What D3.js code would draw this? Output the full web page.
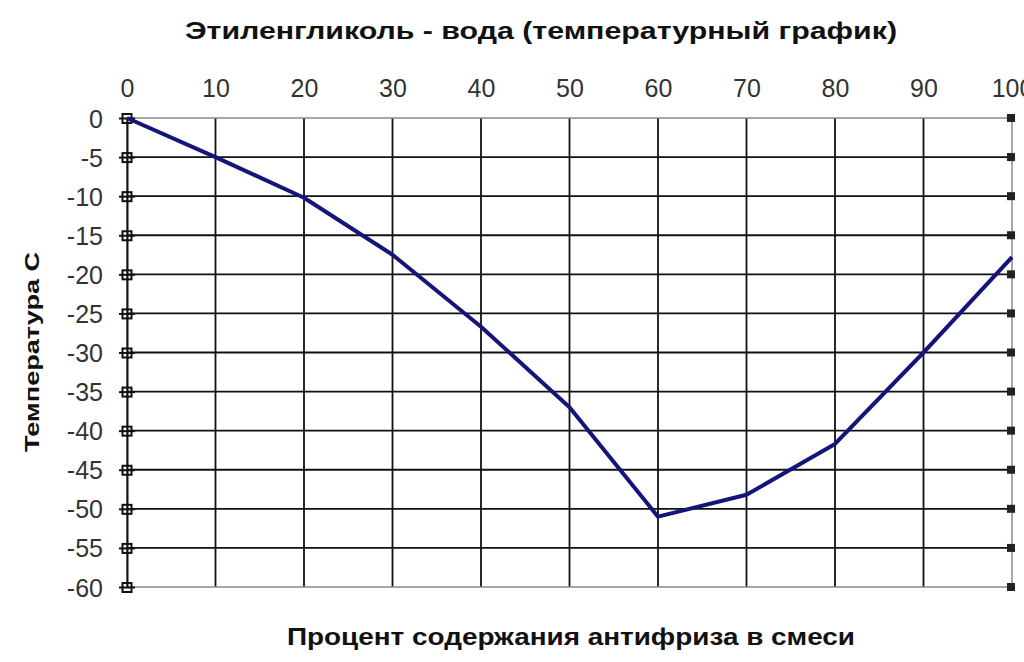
<!DOCTYPE html>
<html>
<head>
<meta charset="utf-8">
<script src="https://cdn.jsdelivr.net/npm/d3@7/dist/d3.min.js"></script>
<style>
  body { margin: 0; background: #fff; }
  svg { display: block; }
  .tick-label { font-family: "Liberation Sans Narrow", "Arial Narrow", "Liberation Sans", sans-serif; font-size: 25px; fill: #333; }
  .title { font-family: "Liberation Sans", Arial, sans-serif; font-weight: bold; fill: #111; }
</style>
</head>
<body>
<svg width="1024" height="662"></svg>
<script>
// antifreeze share, %  and freezing temperature, C
const percent = [0, 10, 20, 30, 40, 50, 60, 70, 80, 90, 100];
const tempC = [0, -5, -10.2, -17.5, -26.7, -37, -51, -48.2, -41.7, -30, -17.8];

const xTicks = [0, 10, 20, 30, 40, 50, 60, 70, 80, 90, 100];
const yTicks = [0, -5, -10, -15, -20, -25, -30, -35, -40, -45, -50, -55, -60];

const titleText = 'Этиленгликоль - вода (температурный график)';
const xLabel = 'Процент содержания антифриза в смеси';
const yLabel = 'Температура С';

const svg = d3.select('svg');
const width = +svg.attr('width');
const height = +svg.attr('height');
const margin = { top: 118, right: 12, bottom: 75, left: 127 };

const x = d3.scaleLinear()
  .domain([0, 100])
  .range([margin.left, width - margin.right]);

const y = d3.scaleLinear()
  .domain([-60, 0])
  .range([height - margin.bottom, margin.top]);

// plain hyphen minus, as in the original
const fmt = d => String(d);

// grid
svg.append('g')
  .selectAll('line')
  .data(xTicks.slice(1, -1))
  .enter().append('line')
  .attr('x1', d => x(d)).attr('x2', d => x(d))
  .attr('y1', y(0)).attr('y2', y(-60))
  .attr('stroke', '#111')
  .attr('stroke-width', 1.8);

svg.append('g')
  .selectAll('line')
  .data(yTicks.slice(1, -1))
  .enter().append('line')
  .attr('x1', x(0)).attr('x2', x(100))
  .attr('y1', d => y(d)).attr('y2', d => y(d))
  .attr('stroke', '#111')
  .attr('stroke-width', 1.8);

// frame (top, bottom, right are grey)
svg.append('rect')
  .attr('x', x(0)).attr('y', y(0))
  .attr('width', x(100) - x(0))
  .attr('height', y(-60) - y(0))
  .attr('fill', 'none')
  .attr('stroke', '#8a8a8a')
  .attr('stroke-width', 1.5);

// left axis
const yAxis = svg.append('g')
  .attr('transform', `translate(${x(0)},0)`)
  .call(d3.axisLeft(y).tickValues(yTicks).tickSize(0).tickPadding(24).tickFormat(fmt));
yAxis.select('.domain').attr('stroke', '#111').attr('stroke-width', 2);
yAxis.selectAll('.tick text')
  .attr('class', 'tick-label')
  .attr('fill', null)
  .attr('dy', '0.36em');

// cross tick marks on the left axis
yAxis.selectAll('.tick').append('rect')
  .attr('x', -4.5).attr('y', -4.5).attr('width', 9).attr('height', 9)
  .attr('fill', 'none').attr('stroke', '#111').attr('stroke-width', 2);
yAxis.selectAll('.tick').append('line')
  .attr('x1', -8).attr('x2', 8)
  .attr('stroke', '#111').attr('stroke-width', 2);

// small markers on the right edge
svg.append('g')
  .selectAll('rect')
  .data(yTicks)
  .enter().append('rect')
  .attr('x', x(100) - 5).attr('y', d => y(d) - 4)
  .attr('width', 8).attr('height', 8)
  .attr('fill', '#222');

// top axis labels
const xAxis = svg.append('g')
  .attr('transform', `translate(0,${y(0)})`)
  .call(d3.axisTop(x).tickValues(xTicks).tickSize(0).tickPadding(21).tickFormat(fmt));
xAxis.select('.domain').remove();
xAxis.selectAll('.tick text')
  .attr('class', 'tick-label')
  .attr('fill', null);

// data line
const line = d3.line()
  .x((d, i) => x(percent[i]))
  .y(d => y(d));

svg.append('path')
  .datum(tempC)
  .attr('fill', 'none')
  .attr('stroke', '#14147a')
  .attr('stroke-width', 4)
  .attr('stroke-linejoin', 'round')
  .attr('d', line);

// titles
svg.append('text')
  .attr('class', 'title')
  .attr('x', 541).attr('y', 39)
  .attr('text-anchor', 'middle')
  .attr('font-size', 24)
  .attr('textLength', 712)
  .attr('lengthAdjust', 'spacingAndGlyphs')
  .text(titleText);

svg.append('text')
  .attr('class', 'title')
  .attr('x', 571).attr('y', 645)
  .attr('text-anchor', 'middle')
  .attr('font-size', 23)
  .attr('textLength', 568)
  .attr('lengthAdjust', 'spacingAndGlyphs')
  .text(xLabel);

svg.append('text')
  .attr('class', 'title')
  .attr('transform', 'translate(39,352) rotate(-90)')
  .attr('text-anchor', 'middle')
  .attr('font-size', 21)
  .attr('textLength', 200)
  .attr('lengthAdjust', 'spacingAndGlyphs')
  .text(yLabel);
</script>
</body>
</html>
